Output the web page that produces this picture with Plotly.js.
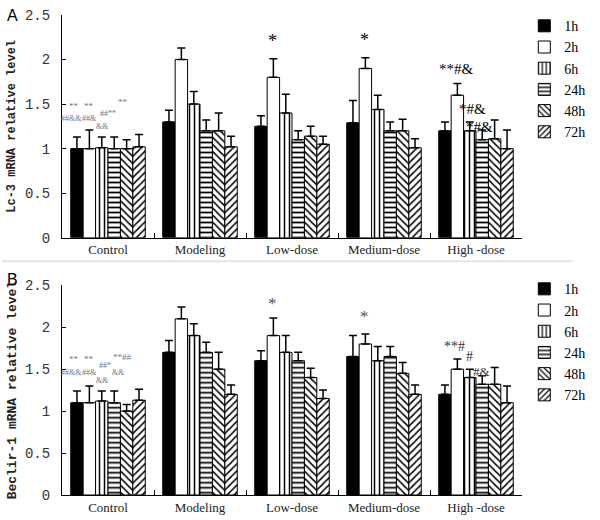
<!DOCTYPE html>
<html><head><meta charset="utf-8">
<script src="https://cdn.plot.ly/plotly-3.0.1.min.js"></script>
<style>body{margin:0;background:#fff}#c{width:600px;height:520px}</style>
</head><body><div id="c"></div>
<script>
const groups = ["Control", "Modeling", "Low-dose", "Medium-dose", "High -dose"];
const series = ["1h", "2h", "6h", "24h", "48h", "72h"];

// Panel A: Lc-3 mRNA relative level
const lc3_1h  = [1.00, 1.30, 1.25, 1.29, 1.20];
const lc3_2h  = [1.00, 2.00, 1.80, 1.90, 1.60];
const lc3_6h  = [1.01, 1.50, 1.40, 1.44, 1.20];
const lc3_24h = [1.00, 1.20, 1.10, 1.20, 1.10];
const lc3_48h = [1.00, 1.20, 1.14, 1.20, 1.11];
const lc3_72h = [1.02, 1.02, 1.05, 1.01, 1.00];
const lc3_err_1h  = [0.13, 0.13, 0.12, 0.25, 0.10];
const lc3_err_2h  = [0.21, 0.13, 0.21, 0.12, 0.13];
const lc3_err_6h  = [0.12, 0.14, 0.21, 0.16, 0.10];
const lc3_err_24h = [0.13, 0.12, 0.10, 0.10, 0.11];
const lc3_err_48h = [0.10, 0.20, 0.11, 0.13, 0.21];
const lc3_err_72h = [0.14, 0.12, 0.09, 0.10, 0.21];

// Panel B: Beclin-1 mRNA relative level
const bec_1h  = [1.10, 1.70, 1.60, 1.65, 1.20];
const bec_2h  = [1.10, 2.10, 1.90, 1.80, 1.50];
const bec_6h  = [1.12, 1.90, 1.70, 1.60, 1.40];
const bec_24h = [1.10, 1.70, 1.60, 1.65, 1.32];
const bec_48h = [1.00, 1.50, 1.40, 1.45, 1.32];
const bec_72h = [1.13, 1.20, 1.15, 1.20, 1.10];
const bec_err_1h  = [0.14, 0.14, 0.12, 0.25, 0.11];
const bec_err_2h  = [0.20, 0.14, 0.21, 0.12, 0.12];
const bec_err_6h  = [0.12, 0.14, 0.20, 0.17, 0.10];
const bec_err_24h = [0.14, 0.12, 0.10, 0.12, 0.10];
const bec_err_48h = [0.08, 0.20, 0.11, 0.13, 0.20];
const bec_err_72h = [0.13, 0.11, 0.10, 0.11, 0.20];

const lc3Vals = [lc3_1h, lc3_2h, lc3_6h, lc3_24h, lc3_48h, lc3_72h];
const lc3Errs = [lc3_err_1h, lc3_err_2h, lc3_err_6h, lc3_err_24h, lc3_err_48h, lc3_err_72h];
const becVals = [bec_1h, bec_2h, bec_6h, bec_24h, bec_48h, bec_72h];
const becErrs = [bec_err_1h, bec_err_2h, bec_err_6h, bec_err_24h, bec_err_48h, bec_err_72h];

const shapes = ["", "", "|", "-", "\\", "/"];
const fills = ["#000", "#fff", "#fff", "#fff", "#fff", "#fff"];

const traces = [];
function addPanel(vals, errs, xa, ya, leg) {
  series.forEach((s, i) => {
    traces.push({
      type: "bar", name: s, x: groups, y: vals[i], xaxis: xa, yaxis: ya, legend: leg,
      marker: {
        color: fills[i],
        line: {color: "#000", width: 1},
        pattern: {shape: shapes[i], fgcolor: "#000", bgcolor: "#fff", size: 5, solidity: i === 3 ? 0.35 : 0.3}
      },
      error_y: {type: "data", symmetric: false, array: errs[i], arrayminus: errs[i].map(() => 0),
        color: "#000", thickness: 1.5, width: 4},
      hoverinfo: "skip"
    });
  });
}
addPanel(lc3Vals, lc3Errs, "x", "y", "legend");
addPanel(becVals, becErrs, "x2", "y2", "legend2");

const bw = 13.2;
const off = i => (i - 2.5) * bw;
const gray = "#6f7484";
function ann(text, xa, ya, cat, dx, y, size, color) {
  return {text: text, xref: xa, yref: ya, x: cat, y: y, xshift: dx, showarrow: false,
    font: {family: "Liberation Serif", size: size, color: color}, yanchor: "bottom"};
}
const annotations = [
  // Panel A significance marks
  ann("*", "x", "y", "Low-dose", off(1), 2.07, 18, "#000"),
  ann("*", "x", "y", "Medium-dose", off(1), 2.08, 18, "#000"),
  ann("**#&", "x", "y", "High -dose", off(1), 1.78, 15, "#000"),
  ann("*#&", "x", "y", "High -dose", off(2) + 3, 1.33, 15, "#000"),
  ann("*#&", "x", "y", "High -dose", off(3) - 3, 1.13, 15, "#000"),
  ann("**", "x", "y", "Control", off(0) - 1, 1.40, 9, gray),
  ann("**", "x", "y", "Control", off(1) + 1, 1.40, 9, gray),
  ann("**", "x", "y", "Control", off(3) + 8, 1.44, 9, gray),
  ann("##&&", "x", "y", "Control", off(0) - 4, 1.27, 8, gray),
  ann("##&", "x", "y", "Control", off(1) + 1, 1.27, 8, gray),
  ann("##**", "x", "y", "Control", off(2) + 7, 1.32, 8, gray),
  ann("&&", "x", "y", "Control", off(2) + 1, 1.18, 8, gray),
  // Panel B significance marks
  ann("*", "x2", "y2", "Low-dose", off(1), 2.14, 17, "#555"),
  ann("*", "x2", "y2", "Medium-dose", off(1), 1.99, 17, "#555"),
  ann("**#", "x2", "y2", "High -dose", off(1) - 2, 1.66, 14, "#333"),
  ann("#", "x2", "y2", "High -dose", off(2), 1.54, 14, "#333"),
  ann("#&", "x2", "y2", "High -dose", off(3) - 1, 1.36, 13, "#333"),
  ann("**", "x2", "y2", "Control", off(0) - 1, 1.54, 9, gray),
  ann("**", "x2", "y2", "Control", off(1) + 1, 1.54, 9, gray),
  ann("**##", "x2", "y2", "Control", off(3) + 8, 1.56, 9, gray),
  ann("##&&", "x2", "y2", "Control", off(0) - 4, 1.38, 8, gray),
  ann("##&", "x2", "y2", "Control", off(1) + 1, 1.38, 8, gray),
  ann("##*", "x2", "y2", "Control", off(2) + 4, 1.46, 8, gray),
  ann("&&", "x2", "y2", "Control", off(3) + 4, 1.38, 8, gray),
  ann("&&", "x2", "y2", "Control", off(2) + 1, 1.29, 8, gray),
  // Panel letters
  {text: "A", xref: "paper", yref: "paper", x: -0.125, y: 1.02, showarrow: false, xanchor: "left", yanchor: "top",
    font: {family: "Liberation Sans", size: 16, color: "#000"}},
  {text: "B", xref: "paper", yref: "paper", x: -0.125, y: 0.47, showarrow: false, xanchor: "left", yanchor: "top",
    font: {family: "Liberation Sans", size: 16, color: "#000"}}
];

const xCommon = {type: "category", showline: true, linecolor: "#000", linewidth: 1, ticks: "inside",
  tickson: "boundaries", ticklen: 5, tickcolor: "#000", showgrid: false, zeroline: false,
  tickfont: {family: "Liberation Serif", size: 13, color: "#222"}, range: [-0.5, 4.5], fixedrange: true};
const yCommon = {range: [0, 2.5], dtick: 0.5, showline: true, linecolor: "#000", linewidth: 1, ticks: "inside",
  ticklen: 4, tickcolor: "#000", showgrid: false, zeroline: false, ticklabelstandoff: 8,
  tickfont: {family: "Liberation Mono", size: 14, color: "#333"}};

const layout = {
  width: 600, height: 520, paper_bgcolor: "#fff", plot_bgcolor: "#fff",
  margin: {l: 62, r: 50, t: 10, b: 25},
  barmode: "group", bargap: 0.19, bargroupgap: 0,
  showlegend: true,
  xaxis: Object.assign({}, xCommon, {anchor: "y"}),
  xaxis2: Object.assign({}, xCommon, {anchor: "y2"}),
  yaxis: Object.assign({}, yCommon, {domain: [0.536, 1], anchor: "x",
    title: {text: "Lc-3 mRNA relative level", standoff: 6,
      font: {family: "Liberation Mono", size: 12, color: "#222", weight: "bold"}}}),
  yaxis2: Object.assign({}, yCommon, {domain: [0, 0.437], anchor: "x2",
    title: {text: "Beclir-1 mRNA relative level", standoff: 5,
      font: {family: "Liberation Mono", size: 13, color: "#222", weight: "bold"}}}),
  legend: {x: 1.005, y: 1.01, xanchor: "left", yanchor: "top", font: {family: "Liberation Serif", size: 14, color: "#000"},
    itemwidth: 30, tracegroupgap: 0, bgcolor: "rgba(0,0,0,0)"},
  legend2: {x: 1.005, y: 0.462, xanchor: "left", yanchor: "top", font: {family: "Liberation Serif", size: 14, color: "#000"},
    itemwidth: 30, tracegroupgap: 0, bgcolor: "rgba(0,0,0,0)"},
  annotations: annotations,
  shapes: [{type: "line", xref: "paper", yref: "paper", x0: -0.13, x1: 1.11, y0: 0.487, y1: 0.487,
    line: {color: "#e4e4e4", width: 2}}]
};
Plotly.newPlot("c", traces, layout, {staticPlot: true});
</script></body></html>
